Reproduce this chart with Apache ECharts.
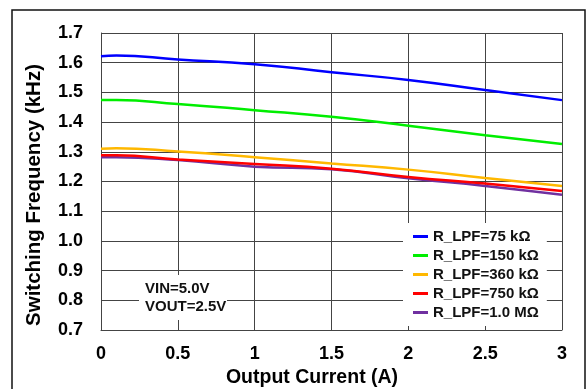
<!DOCTYPE html>
<html>
<head>
<meta charset="utf-8">
<script src="https://cdn.jsdelivr.net/npm/echarts@6/dist/echarts.min.js"></script>
<style>
  html, body { margin: 0; padding: 0; background: #fff; }
  #chart { width: 586px; height: 389px; }
</style>
</head>
<body>
<div id="chart"></div>
<script>
// output current (A)
const current = [0, 0.1, 0.5, 1, 1.5, 2, 2.5, 3];

// switching frequency (kHz) per R_LPF
const f75k  = [1.622, 1.624, 1.611, 1.595, 1.568, 1.542, 1.508, 1.474];
const f150k = [1.474, 1.474, 1.461, 1.440, 1.418, 1.388, 1.356, 1.326];
const f360k = [1.310, 1.312, 1.301, 1.282, 1.261, 1.240, 1.212, 1.185];
const f750k = [1.288, 1.288, 1.274, 1.259, 1.243, 1.215, 1.193, 1.168];
const f1M   = [1.282, 1.282, 1.272, 1.250, 1.241, 1.211, 1.185, 1.155];

const seriesNames = ["R_LPF=75 kΩ", "R_LPF=150 kΩ", "R_LPF=360 kΩ", "R_LPF=750 kΩ", "R_LPF=1.0 MΩ"];
const seriesData = [f75k, f150k, f360k, f750k, f1M];
const seriesColors = ["#0000ff", "#00ee00", "#ffb800", "#ff0000", "#7030a0"];

const xTitle = "Output Current (A)";
const yTitle = "Switching Frequency (kHz)";

const font = "'Liberation Sans', Arial, sans-serif";

const chart = echarts.init(document.getElementById("chart"), null, { renderer: "canvas" });

chart.setOption({
    animation: false,
    textStyle: { fontFamily: font },
    grid: { left: 101, right: 24, top: 33, bottom: 59, containLabel: false, outerBoundsMode: "none" },
    legend: {
        data: seriesNames,
        left: 403,
        top: 223,
        orient: "vertical",
        backgroundColor: "#fff",
        padding: [6, 8, 6, 10],
        itemGap: 4,
        itemWidth: 15,
        itemHeight: 3,
        icon: "rect",
        textStyle: { fontFamily: font, fontSize: 15, fontWeight: "bold", color: "#111" },
        z: 10,
    },
    xAxis: {
        type: "value",
        min: 0,
        max: 3,
        interval: 0.5,
        axisLine: { show: true, lineStyle: { color: "#444", width: 1 } },
        axisTick: { show: false },
        axisLabel: { margin: 15, fontFamily: font, fontSize: 18, fontWeight: "bold", color: "#000" },
        splitLine: { show: true, lineStyle: { color: "#444", width: 1 } },
    },
    yAxis: {
        type: "value",
        min: 0.7,
        max: 1.7,
        interval: 0.1,
        axisLine: { show: true, lineStyle: { color: "#444", width: 1 } },
        axisTick: { show: false },
        axisLabel: {
            margin: 18,
            fontFamily: font,
            fontSize: 18,
            fontWeight: "bold",
            color: "#000",
            formatter: (v) => Number(v).toFixed(1),
        },
        splitLine: { show: true, lineStyle: { color: "#444", width: 1 } },
    },
    graphic: [
        {
            type: "rect",
            shape: { x: 12, y: 10, width: 573, height: 400 },
            style: { fill: "none", stroke: "#111", lineWidth: 1.5 },
            silent: true,
        },
        // axis titles sit off-centre in the original, so place them by hand
        {
            type: "text",
            x: 312,
            y: 378,
            style: {
                text: xTitle,
                font: "bold 19.5px " + font,
                fill: "#000",
                align: "center",
                verticalAlign: "middle",
            },
        },
        {
            type: "text",
            x: 34,
            y: 195,
            rotation: Math.PI / 2,
            style: {
                text: yTitle,
                font: "bold 20.5px " + font,
                fill: "#000",
                align: "center",
                verticalAlign: "middle",
            },
        },
        {
            type: "rect",
            shape: { x: 139, y: 275, width: 88, height: 45 },
            style: { fill: "#fff" },
            z: 5,
            silent: true,
        },
        {
            type: "text",
            left: 145,
            top: 280,
            z: 6,
            style: {
                text: "VIN=5.0V\nVOUT=2.5V",
                font: "bold 15px " + font,
                fill: "#111",
                lineHeight: 18,
            },
        },
    ],
    series: seriesNames.map((name, i) => ({
        name: name,
        type: "line",
        data: current.map((x, j) => [x, seriesData[i][j]]),
        smooth: true,
        showSymbol: false,
        lineStyle: { color: seriesColors[i], width: 2.5 },
        itemStyle: { color: seriesColors[i] },
        z: i === 4 ? 1 : 2,
    })),
});
</script>
</body>
</html>
